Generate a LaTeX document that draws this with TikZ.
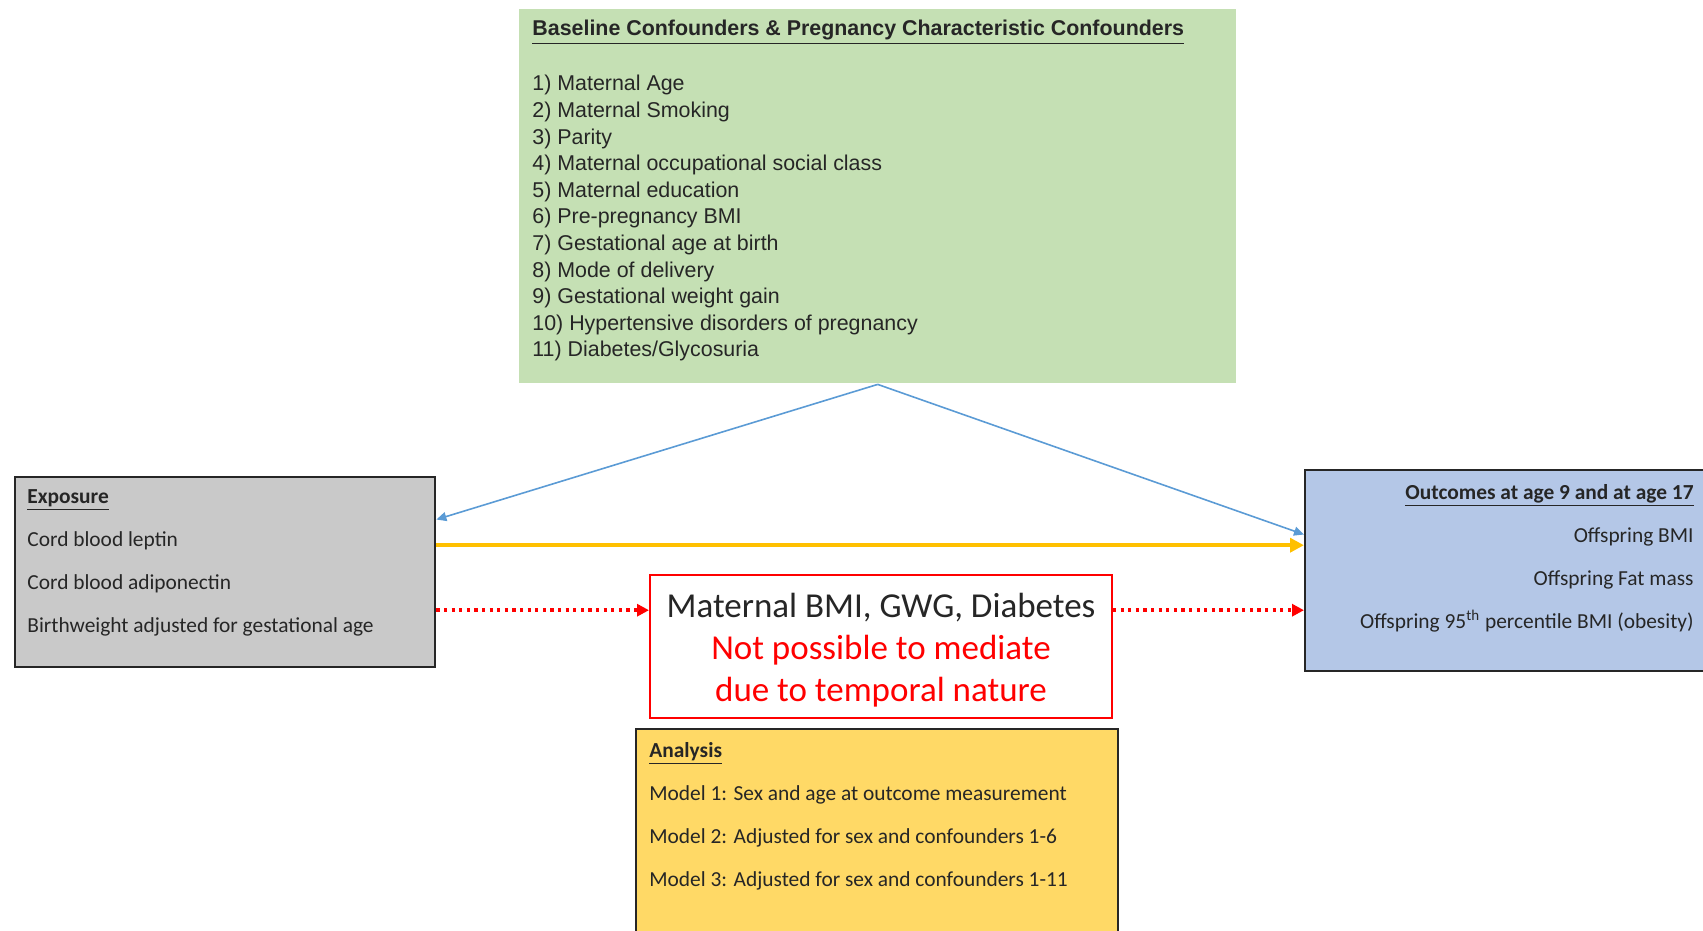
\documentclass[tikz,border=0pt]{standalone}
\usepackage{fontspec}
\setmainfont{Carlito}
\newfontfamily\arialfont{Liberation Sans}
\usetikzlibrary{arrows.meta,positioning,calc}

\definecolor{confgreen}{HTML}{C5E0B4}
\definecolor{expogray}{HTML}{C9C9C9}
\definecolor{outcblue}{HTML}{B4C7E7}
\definecolor{analyellow}{HTML}{FFD966}
\definecolor{arrowblue}{HTML}{5B9BD5}
\definecolor{arrowyellow}{HTML}{FFC000}
\definecolor{arrowred}{HTML}{FF0000}

\begin{document}
\begin{tikzpicture}[
  x=0.5pt, y=-0.5pt,
  >=Latex,
  box/.style={rectangle, draw=black!85, line width=1.2pt, inner sep=0pt, anchor=north west},
  txt/.style={inner sep=0pt, text=black!85, font=\fontsize{10.7}{21.5}\selectfont},
  blueArr/.style={-{Triangle[length=5pt,width=4.5pt]}, draw=arrowblue, line width=0.8pt},
  yellArr/.style={-{Triangle[length=7pt,width=7pt]}, draw=arrowyellow, line width=2.2pt},
  redArr/.style={-{Triangle[length=6pt,width=6pt]}, draw=arrowred, line width=1.8pt, dash pattern=on 1.6pt off 2.2pt}
]
  \useasboundingbox (0,0) rectangle (1703,931);

  % boxes
  \node[box, draw=none, fill=confgreen, minimum width=358.5pt, minimum height=187pt] (conf) at (518,8) {};
  \node[box, fill=expogray, minimum width=210pt, minimum height=95pt] (expo) at (14,476) {};
  \node[box, fill=outcblue, minimum width=204pt, minimum height=100.5pt] (outc) at (1304,469) {};
  \node[box, fill=analyellow, minimum width=241pt, minimum height=108.5pt] (anal) at (635,728) {};
  \node[rectangle, draw=arrowred, line width=1pt, fill=white, minimum width=231pt, minimum height=71.5pt] (med) at (881,646.5) {};

  % box texts
  \node[align=center, inner sep=0pt, font=\fontsize{17.5}{21}\selectfont] (medtxt) at ([yshift=-1.7pt]med.center)
    {\textcolor{black!85}{Maternal BMI, GWG, Diabetes}\\ \textcolor{arrowred}{Not possible to mediate}\\ \textcolor{arrowred}{due to temporal nature}};
  \node[txt, anchor=north west, align=left, font=\arialfont\fontsize{10.7}{13.3}\selectfont] (conftxt) at (532,20)
    {\underline{\textbf{Baseline Confounders \& Pregnancy Characteristic Confounders}}\\[14.2pt]
     1) Maternal Age\\
     2) Maternal Smoking\\
     3) Parity\\
     4) Maternal occupational social class\\
     5) Maternal education\\
     6) Pre-pregnancy BMI\\
     7) Gestational age at birth\\
     8) Mode of delivery\\
     9) Gestational weight gain\\
     10) Hypertensive disorders of pregnancy\\
     11) Diabetes/Glycosuria};
  \node[txt, anchor=north west, align=left] (expotxt) at (27,489)
    {\underline{\textbf{Exposure}}\\
     Cord blood leptin\\
     Cord blood adiponectin\\
     Birthweight adjusted for gestational age};
  \node[txt, anchor=north east, align=right] (outctxt) at (1694,484)
    {\underline{\textbf{Outcomes at age 9 and at age 17}}\\
     Offspring BMI\\
     Offspring Fat mass\\
     Offspring 95\textsuperscript{th} percentile BMI (obesity)};
  \node[txt, anchor=north west, align=left] (analtxt) at (649,742)
    {\underline{\textbf{Analysis}}\\
     Model 1: Sex and age at outcome measurement\\
     Model 2: Adjusted for sex and confounders 1-6\\
     Model 3: Adjusted for sex and confounders 1-11};

  % connectors
  \coordinate (ys) at ([yshift=13.5pt]expo.east);
  \coordinate (rs) at ([yshift=-19pt]expo.east);
  \draw[blueArr] (conf.south) -- (expo.14);
  \draw[blueArr] (conf.south) -- (outc.170);
  \draw[yellArr] (ys) -- (ys -| outc.west);
  \draw[redArr] (rs) -- (rs -| med.west);
  \draw[redArr] (rs -| med.east) -- (rs -| outc.west);
\end{tikzpicture}
\end{document}
